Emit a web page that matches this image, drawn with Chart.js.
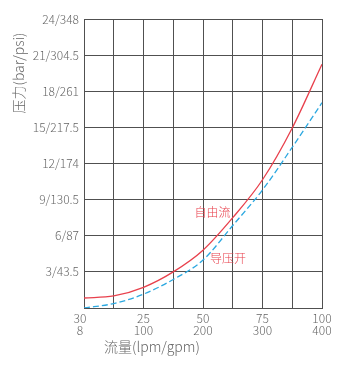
<!DOCTYPE html>
<html>
<head>
<meta charset="utf-8">
<script src="https://cdn.jsdelivr.net/npm/chart.js@4/dist/chart.umd.min.js"></script>
<style>
  html, body { margin: 0; padding: 0; background: #fff; }
  #wrap { width: 342px; height: 376px; }
</style>
</head>
<body>
<div id="wrap"><canvas id="chart"></canvas></div>
<script>
// Flow (lpm) sample points
const flowLpm = [0, 12.5, 25, 37.5, 50, 62.5, 75, 87.5, 100];
// Pressure drop (bar), free flow and pilot open
const freeFlow = [0.83, 1.0, 1.72, 3.0, 4.8, 7.5, 10.65, 14.95, 20.25];
const pilotOpen = [0.0, 0.37, 1.15, 2.37, 3.98, 6.85, 9.8, 13.35, 17.05];

// Dual-unit tick labels (first one sits a little left of its grid line in the original)
const xTickLabels = { 0: ['30   ', '8   '], 25: ['25', '100'], 50: ['50', '200'], 75: ['75', '300'], 100: ['100', '400'] };
const yTickLabels = { 3: '3/43.5', 6: '6/87', 9: '9/130.5', 12: '12/174', 15: '15/217.5', 18: '18/261', 21: '21/304.5', 24: '24/348' };

const seriesNames = ['自由流', '导压开'];
const FONT = "'Noto Sans CJK SC', 'Noto Sans', sans-serif";
const RED = '#e8404c';
const BLUE = '#2ba8e0';
const TEXT = '#666';
const GRID = '#505050';

const toPoints = (ys) => flowLpm.map((x, i) => ({ x: x, y: ys[i] }));

// Series names next to the curves, plus the two axis titles
const labelsPlugin = {
    id: 'curveLabels',
    afterDatasetsDraw(chart) {
        const { ctx, scales: { x, y } } = chart;
        ctx.save();
        ctx.font = '300 12px ' + FONT;
        ctx.textAlign = 'center';
        ctx.textBaseline = 'middle';
        ctx.fillStyle = RED;
        ctx.fillText(seriesNames[0], x.getPixelForValue(54), y.getPixelForValue(7.95));
        ctx.fillText(seriesNames[1], x.getPixelForValue(60.5), y.getPixelForValue(4.15));

        ctx.fillStyle = TEXT;
        ctx.font = '300 14px ' + FONT;
        ctx.fillText('流量(lpm/gpm)', 152, 347);
        ctx.translate(19, 73);
        ctx.rotate(-Math.PI / 2);
        ctx.fillText('压力(bar/psi)', 0, 0);
        ctx.restore();
    }
};

new Chart(document.getElementById('chart'), {
    type: 'line',
    data: {
        datasets: [
            {
                label: seriesNames[0],
                data: toPoints(freeFlow),
                borderColor: RED,
                borderWidth: 1.3,
                pointRadius: 0,
                fill: false,
                cubicInterpolationMode: 'monotone'
            },
            {
                label: seriesNames[1],
                data: toPoints(pilotOpen),
                borderColor: BLUE,
                borderWidth: 1.3,
                borderDash: [6, 3],
                pointRadius: 0,
                fill: false,
                cubicInterpolationMode: 'monotone'
            }
        ]
    },
    options: {
        responsive: true,
        maintainAspectRatio: false,
        animation: false,
        layout: { padding: { top: 19, right: 20, left: 0, bottom: 0 } },
        plugins: {
            legend: { display: false },
            tooltip: { enabled: false }
        },
        scales: {
            x: {
                type: 'linear',
                min: 0,
                max: 100,
                afterFit: (scale) => { scale.height = 68; },
                afterBuildTicks: (scale) => {
                    scale.ticks = flowLpm.map(v => ({ value: v }));
                },
                grid: { color: GRID, lineWidth: 1, drawTicks: false },
                border: { color: GRID },
                ticks: {
                    padding: 4,
                    maxRotation: 0,
                    autoSkip: false,
                    color: TEXT,
                    font: { family: FONT, size: 12, weight: '300', lineHeight: 1.05 },
                    callback: (v) => xTickLabels[v] || ''
                }
            },
            y: {
                min: 0,
                max: 24,
                afterFit: (scale) => { scale.width = 84; },
                grid: { color: GRID, lineWidth: 1, drawTicks: false },
                border: { color: GRID },
                ticks: {
                    stepSize: 3,
                    padding: 5,
                    color: TEXT,
                    font: { family: FONT, size: 12, weight: '300' },
                    callback: (v) => yTickLabels[v] || ''
                }
            }
        }
    },
    plugins: [labelsPlugin]
});
</script>
</body>
</html>
